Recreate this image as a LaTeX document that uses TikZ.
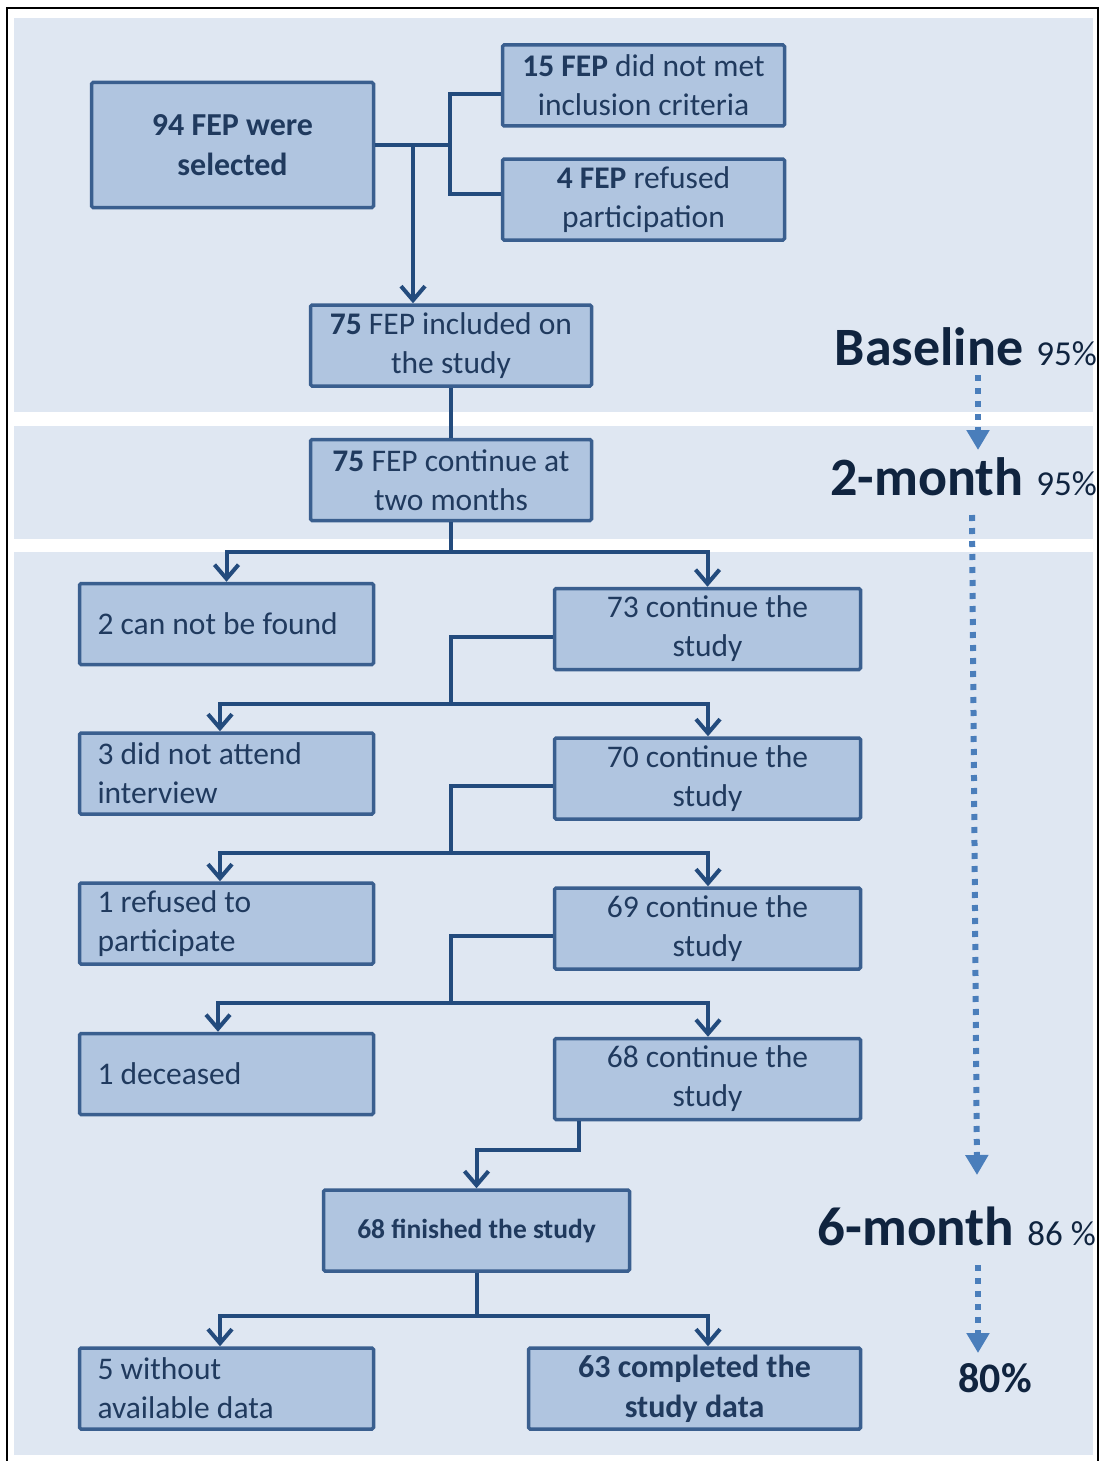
\documentclass[tikz,border=0pt]{standalone}
\usepackage{fontspec}
\setmainfont{Carlito}
\usetikzlibrary{arrows.meta}
\definecolor{bandc}{HTML}{DFE7F2}
\definecolor{boxf}{HTML}{B0C5E0}
\definecolor{boxd}{HTML}{3A5F8F}
\definecolor{connc}{HTML}{234B7D}
\definecolor{txtc}{HTML}{203A5E}
\definecolor{navy}{HTML}{10243F}
\definecolor{dotc}{HTML}{4A7EBB}
\begin{document}
\begin{tikzpicture}[x=1pt,y=-1pt,
  box/.style={draw=boxd, fill=boxf, line width=3.5pt, rounded corners=1.5pt,
    text=txtc, inner sep=0pt, align=center, minimum height=81pt,
    font=\fontsize{31.5}{39}\selectfont},
  lbox/.style={box, minimum width=294pt, text width=258pt, align=flush left},
  rbox/.style={box, minimum width=306pt},
  conn/.style={draw=connc, line width=4pt},
  arr/.style={conn, -{Straight Barb[length=14pt,width=24pt]}},
  dotarr/.style={draw=dotc, line width=6pt, dash pattern=on 6pt off 7pt,
    -{Triangle[length=20pt,width=22pt]}},
  biglab/.style={anchor=base east, inner sep=0pt, text=navy}
]
\useasboundingbox (0,0) rectangle (1102,1461);
% frame and bands
\draw[line width=2pt] (7,1470) -- (7,8) -- (1098,8) -- (1098,1470);
\fill[bandc] (14,18) rectangle (1093,412);
\fill[bandc] (14,426) rectangle (1093,539);
\fill[bandc] (14,552) rectangle (1093,1455);

% nodes
\node[box, minimum width=282pt, minimum height=125pt, font=\fontsize{32}{40}\selectfont\bfseries] (A) at (232.5,145) {94 FEP were\\selected};
\node[box, minimum width=282pt] (B) at (643.5,85.5) {\textbf{15 FEP} did not met\\inclusion criteria};
\node[box, minimum width=282pt] (C) at (643.5,199.5) {\textbf{4 FEP} refused\\participation};
\node[box, minimum width=281pt] (D) at (451,345.5) {\textbf{75} FEP included on\\the study};
\node[box, minimum width=281pt] (E) at (451,480) {\textbf{75} FEP continue at\\two months};
\node[lbox] (F) at (226.5,624) {2 can not be found};
\node[rbox] (G) at (707.5,629) {73 continue the\\study};
\node[lbox] (H) at (226.5,773.5) {3 did not attend\\interview};
\node[rbox] (I) at (707.5,778.5) {70 continue the\\study};
\node[lbox] (J) at (226.5,923.5) {1 refused to\\participate};
\node[rbox] (K) at (707.5,928.5) {69 continue the\\study};
\node[lbox] (L) at (226.5,1074) {1 deceased};
\node[rbox] (M) at (707.5,1079) {68 continue the\\study};
\node[rbox, font=\fontsize{27.5}{34}\selectfont\bfseries] (N) at (476.5,1230.5) {68 finished the study};
\node[lbox] (O) at (226.5,1388.5) {5 without\\available data};
\node[box, minimum width=332pt, font=\fontsize{32}{40}\selectfont\bfseries] (P) at (694.5,1388.5) {63 completed the\\study data};

% junction coordinates
\coordinate (a1) at (413,145);
\coordinate (a2) at (450,145);
\coordinate (b1) at (450,94);
\coordinate (c1) at (450,194);
\coordinate (xa) at (413,0);
\coordinate (e1) at (451,552);
\coordinate (g0) at (451,637);
\coordinate (g1) at (451,704);
\coordinate (i0) at (451,786);
\coordinate (i1) at (451,853);
\coordinate (k0) at (451,936);
\coordinate (k1) at (451,1003);
\coordinate (m0) at (579,1150);
\coordinate (m1) at (476.5,1150);
\coordinate (n1) at (476.5,1316);
\coordinate (xm) at (579,0);
\coordinate (xl) at (220,0);
\coordinate (xr) at (708,0);

% connectors
\draw[conn] (A.east) -- (a2);
\draw[conn] (B.west |- b1) -- (b1) -- (c1) -- (C.west |- c1);
\draw[arr] (a1) -- (D.north -| xa);
\draw[conn] (D.south) -- (E.north);
\draw[conn] (E.south) -- (e1);
\draw[arr] (e1) -| (F.north);
\draw[arr] (e1) -| (G.north);
\draw[conn] (G.west |- g0) -| (g1);
\draw[arr] (g1) -| (H.north -| xl);
\draw[arr] (g1) -| (I.north -| xr);
\draw[conn] (I.west |- i0) -| (i1);
\draw[arr] (i1) -| (J.north -| xl);
\draw[arr] (i1) -| (K.north -| xr);
\draw[conn] (K.west |- k0) -| (k1);
\draw[arr] (k1) -| ([xshift=-2pt]L.north -| xl);
\draw[arr] (k1) -| (M.north -| xr);
\draw[arr] (M.south -| xm) -- (m0) -- (m1) -- (N.north);
\draw[conn] (N.south) -- (n1);
\draw[arr] (n1) -| (O.north -| xl);
\draw[arr] (n1) -| (P.north -| xr);

% right side labels
\node[biglab] (base) at (1097,365) {\fontsize{54}{54}\selectfont\bfseries Baseline\hspace{13pt}\mdseries\fontsize{35}{35}\selectfont 95\%};
\node[biglab] (two) at (1097,495) {\fontsize{54}{54}\selectfont\bfseries 2-month\hspace{13pt}\mdseries\fontsize{35}{35}\selectfont 95\%};
\node[biglab] (six) at (1096,1245) {\fontsize{55}{55}\selectfont\bfseries 6-month\hspace{13pt}\mdseries\fontsize{35}{35}\selectfont 86 \%};
\node[anchor=base, inner sep=0pt, text=navy, font=\fontsize{42}{42}\selectfont\bfseries] (fin) at (995,1392) {80\%};

\coordinate (d1s) at (978,375);
\coordinate (d1e) at (978,450);
\coordinate (d2s) at (972,515);
\coordinate (d2e) at (977,1175);
\coordinate (d3s) at (978,1265);
\coordinate (d3e) at (978,1353);
\draw[dotarr] (d1s) -- (d1e);
\draw[dotarr] (d2s) -- (d2e);
\draw[dotarr] (d3s) -- (d3e);
\end{tikzpicture}
\end{document}
